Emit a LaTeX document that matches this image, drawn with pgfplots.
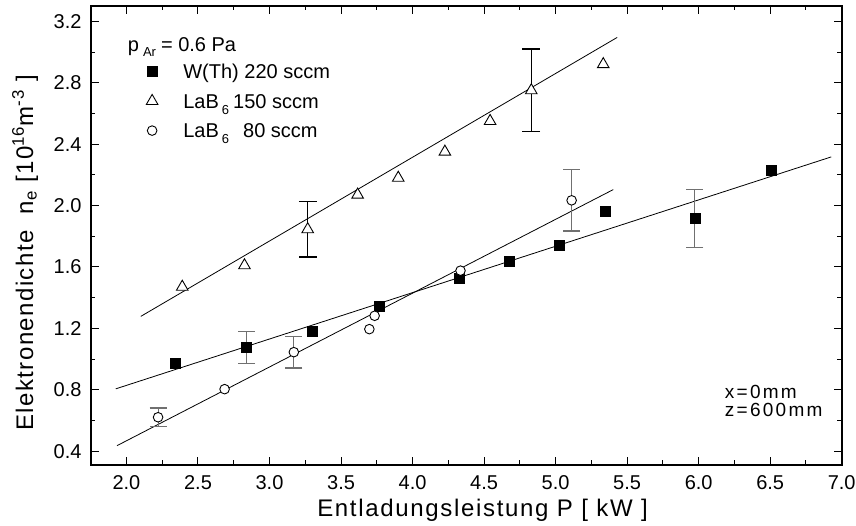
\documentclass[border=0pt]{standalone}
\usepackage{fontspec}
\setmainfont{Liberation Sans}
\usepackage{pgfplots}
\pgfplotsset{compat=1.18}
\definecolor{errgray}{RGB}{112,112,112}
% lowered, small index as used in the labels
\newcommand\lsub[2][6pt]{\raisebox{-#1}{\fontsize{13}{13}\selectfont #2}}

\begin{document}
\begin{tikzpicture}[x=1pt,y=1pt]
\path[use as bounding box] (0,0) rectangle (856,526);
\begin{axis}[
  at={(90.7pt,61pt)}, anchor=south west,
  scale only axis, width=751pt, height=459pt,
  xmin=1.75, xmax=7.0, ymin=0.31, ymax=3.30,
  xtick={2.0,2.5,3.0,3.5,4.0,4.5,5.0,5.5,6.0,6.5,7.0},
  ytick={0.4,0.8,1.2,1.6,2.0,2.4,2.8,3.2},
  minor x tick num=1, minor y tick num=1,
  tick align=inside, xtick pos=both, ytick pos=both,
  xticklabel pos=lower, yticklabel pos=left,
  major tick length=8pt, minor tick length=4.5pt,
  every tick/.style={black, line width=1pt},
  axis line style={line width=1.6pt},
  /pgf/number format/fixed, /pgf/number format/fixed zerofill,
  /pgf/number format/precision=1,
  /pgf/number format/assume math mode=true,
  tick label style={font=\fontsize{20}{24}\selectfont},
  xticklabel style={anchor=base, inner sep=0pt, yshift=-25pt},
  yticklabel style={anchor=east, inner sep=0pt, xshift=-9pt},
  xlabel={Entladungsleistung P [ kW ]},
  xlabel style={at={([yshift=-52pt]axis description cs:0.5217,0)}, anchor=base,
    font=\fontsize{24}{28}\selectfont\addfontfeature{LetterSpace=7}},
  ylabel={Elektronendichte\ \ n\textsubscript{e} [10\textsuperscript{16}m\textsuperscript{-3} ]},
  ylabel style={at={([xshift=-57.7pt]axis description cs:0,0.462)}, anchor=base, rotate=0,
    font=\fontsize{24}{28}\selectfont\addfontfeature{LetterSpace=6}},
  legend style={draw=none, fill=none, inner sep=0pt, row sep=0pt, column sep=23pt,
    at={(axis cs:2.1207,2.970)}, anchor=north west,
    font=\fontsize{20}{24}\selectfont,
    nodes={inner sep=0pt, text height=21.75pt, text depth=7.75pt}},
  legend cell align=left,
  legend image code/.code={
    \path (0pt,0pt) (16pt,0pt);
    \draw[mark repeat=2,mark phase=2,#1] plot coordinates {(0pt,0pt) (8pt,0pt) (16pt,0pt)};
  },
]
% linear fits
\addplot[black, line width=0.8pt, forget plot] coordinates {(2.10,1.278) (5.43,3.095)};
\addplot[black, line width=0.8pt, forget plot] coordinates {(1.925,0.806) (6.927,2.317)};
\addplot[black, line width=0.8pt, forget plot] coordinates {(1.934,0.436) (5.403,2.104)};

% error bars
\addplot[only marks, mark=none, forget plot,
  error bars/.cd, y dir=both, y explicit,
  error bar style={black, line width=1.1pt},
  error mark options={rotate=90, mark size=8.8pt, black, line width=1.1pt}]
  coordinates {(3.267,1.845) +- (0,0.18) (4.83,2.75) +- (0,0.27)};
\addplot[only marks, mark=none, forget plot,
  error bars/.cd, y dir=both, y explicit,
  error bar style={errgray, line width=1.1pt},
  error mark options={rotate=90, mark size=8.5pt, errgray, line width=1.1pt}]
  coordinates {(2.84,1.075) +- (0,0.105) (5.973,1.915) +- (0,0.19)};
\addplot[only marks, mark=none, forget plot,
  error bars/.cd, y dir=both, y explicit,
  error bar style={errgray, line width=1.1pt},
  error mark options={rotate=90, mark size=8.5pt, errgray, line width=1.1pt}]
  coordinates {(2.221,0.621) +- (0,0.06) (3.17,1.045) +- (0,0.103) (5.112,2.034) +- (0,0.2)};

% W(Th) 220 sccm
\addplot[only marks, mark=square*, mark size=5pt, black] coordinates {
  (2.344,0.971) (2.84,1.075) (3.298,1.184) (3.768,1.343) (4.326,1.524)
  (4.675,1.637) (5.024,1.741) (5.345,1.963) (5.973,1.915) (6.506,2.23)};
\addlegendentry{W(Th) 220 sccm}
% LaB6 150 sccm
\addplot[only marks, mark=triangle*, mark size=6.7pt, black, fill=white,
  mark options={line width=0.9pt, fill=white}] coordinates {
  (2.39,1.47) (2.825,1.61) (3.267,1.845) (3.616,2.07) (3.90,2.18)
  (4.226,2.35) (4.542,2.55) (4.83,2.75) (5.333,2.92)};
\addlegendentry{LaB\kern3pt\lsub{6}\kern4pt 150 sccm}
% LaB6 80 sccm
\addplot[only marks, mark=*, mark size=4.8pt, black,
  mark options={line width=0.9pt, fill=white}] coordinates {
  (2.221,0.621) (2.686,0.804) (3.17,1.045) (3.698,1.195) (3.735,1.282)
  (4.335,1.576) (5.112,2.034)};
\addlegendentry{LaB\kern3pt\lsub{6}\kern14pt 80 sccm}

\node[anchor=base west, font=\fontsize{20}{24}\selectfont, inner sep=0pt]
  at (axis cs:2.009,3.004) {p\kern4pt\lsub[5pt]{Ar}\kern5pt= 0.6 Pa};
\node[anchor=base west, font=\fontsize{19}{23}\selectfont\addfontfeature{LetterSpace=12}, inner sep=0pt]
  at (axis cs:6.182,0.741) {x=0mm};
\node[anchor=base west, font=\fontsize{19}{23}\selectfont\addfontfeature{LetterSpace=12}, inner sep=0pt]
  at (axis cs:6.182,0.625) {z=600mm};
\end{axis}
\end{tikzpicture}
\end{document}
